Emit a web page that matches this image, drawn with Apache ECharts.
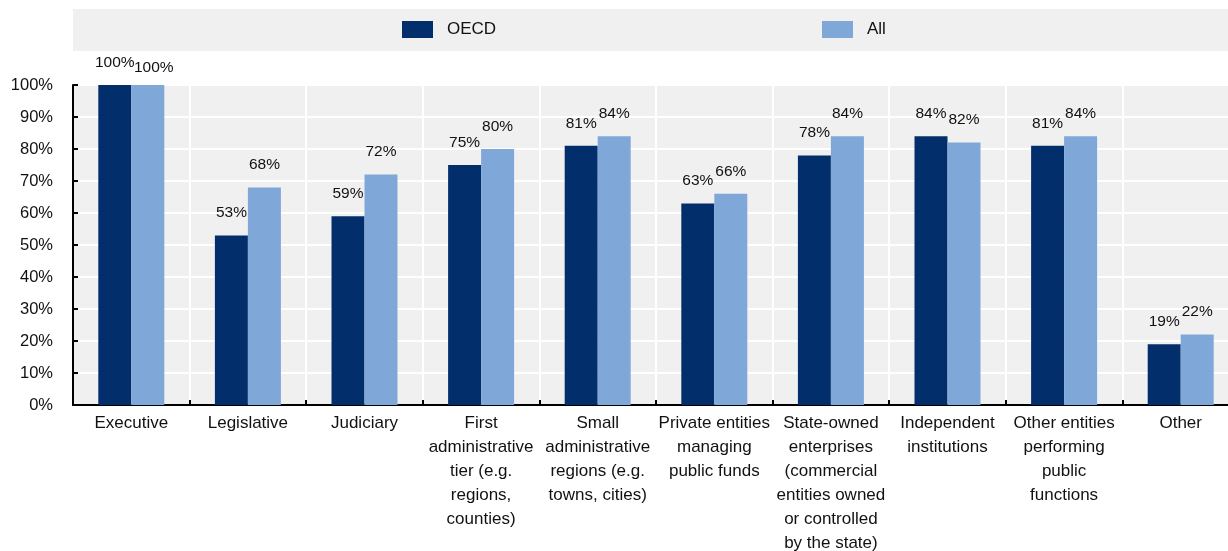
<!DOCTYPE html>
<html>
<head>
<meta charset="utf-8">
<script src="https://cdn.jsdelivr.net/npm/echarts@6/dist/echarts.min.js"></script>
<style>
  html, body { margin: 0; padding: 0; background: #fff; }
  #chart { width: 1228px; height: 551px; }
</style>
</head>
<body>
<div id="chart"></div>
<script>
// Categories of public-sector bodies (line breaks as shown under the axis)
const categories = [
  'Executive',
  'Legislative',
  'Judiciary',
  'First\nadministrative\ntier (e.g.\nregions,\ncounties)',
  'Small\nadministrative\nregions (e.g.\ntowns, cities)',
  'Private entities\nmanaging\npublic funds',
  'State-owned\nenterprises\n(commercial\nentities owned\nor controlled\nby the state)',
  'Independent\ninstitutions',
  'Other entities\nperforming\npublic\nfunctions',
  'Other'
];

// Share of countries (%)
const oecdValues = [100, 53, 59, 75, 81, 63, 78, 84, 81, 19];
const allValues  = [100, 68, 72, 80, 84, 66, 84, 82, 84, 22];

const seriesNames = ['OECD', 'All'];
const yTicks = { min: 0, max: 100, step: 10 };

const FONT = '"Liberation Sans", Arial, sans-serif';
const TEXT = '#111111';
const C_OECD = '#022f6b';
const C_ALL = '#7fa8d9';
const PANEL = '#f0f0f0';

const chart = echarts.init(document.getElementById('chart'), null, { renderer: 'canvas' });

const labelStyle = {
  show: true,
  position: 'top',
  distance: 14,
  fontFamily: FONT,
  fontSize: 15.5,
  lineHeight: 17,
  color: TEXT,
  formatter: p => p.value + '%'
};

// The two 100% labels on the first category sit apart from one another
const allData = allValues.map((v, i) =>
  i === 0 ? { value: v, label: { offset: [6, 5] } } : v
);

const legendBase = {
  top: 21,
  padding: 0,
  itemWidth: 31,
  itemHeight: 17,
  icon: 'rect',
  textStyle: { fontFamily: FONT, fontSize: 17, color: TEXT, padding: [0, 0, 0, 9] }
};

chart.setOption({
  animation: false,
  backgroundColor: '#ffffff',
  graphic: [{
    type: 'rect',
    z: -1,
    shape: { x: 73, y: 9, width: 1160, height: 42 },
    style: { fill: PANEL }
  }],
  legend: [
    Object.assign({}, legendBase, { data: [seriesNames[0]], left: 402 }),
    Object.assign({}, legendBase, { data: [seriesNames[1]], left: 822 })
  ],
  grid: {
    left: 73, top: 85, width: 1166, bottom: 146,
    outerBoundsMode: 'none',
    show: true, backgroundColor: PANEL, borderWidth: 0,
    containLabel: false
  },
  xAxis: {
    type: 'category',
    data: categories,
    axisLine: { lineStyle: { color: '#000', width: 2 } },
    axisTick: { show: true, inside: true, length: 5, lineStyle: { color: '#000', width: 2 } },
    splitLine: { show: true, interval: 0, lineStyle: { color: '#ffffff', width: 2 } },
    axisLabel: {
      interval: 0,
      margin: 6,
      fontFamily: FONT,
      fontSize: 17,
      lineHeight: 24,
      color: TEXT,
      align: 'center'
    }
  },
  yAxis: {
    type: 'value',
    min: yTicks.min, max: yTicks.max, interval: yTicks.step,
    axisLine: { show: true, lineStyle: { color: '#000', width: 2 } },
    axisTick: { show: true, inside: true, length: 5, lineStyle: { color: '#000', width: 2 } },
    splitLine: { show: true, lineStyle: { color: '#ffffff', width: 2 } },
    axisLabel: {
      margin: 20,
      fontFamily: FONT,
      fontSize: 16.5,
      color: TEXT,
      formatter: '{value}%'
    }
  },
  series: [
    {
      name: seriesNames[0],
      type: 'bar',
      data: oecdValues,
      barWidth: 33,
      barGap: '0%',
      itemStyle: { color: C_OECD },
      label: labelStyle,
      z: 3
    },
    {
      name: seriesNames[1],
      type: 'bar',
      data: allData,
      barWidth: 33,
      barGap: '0%',
      itemStyle: { color: C_ALL },
      label: labelStyle,
      z: 3
    }
  ]
});
</script>
</body>
</html>
